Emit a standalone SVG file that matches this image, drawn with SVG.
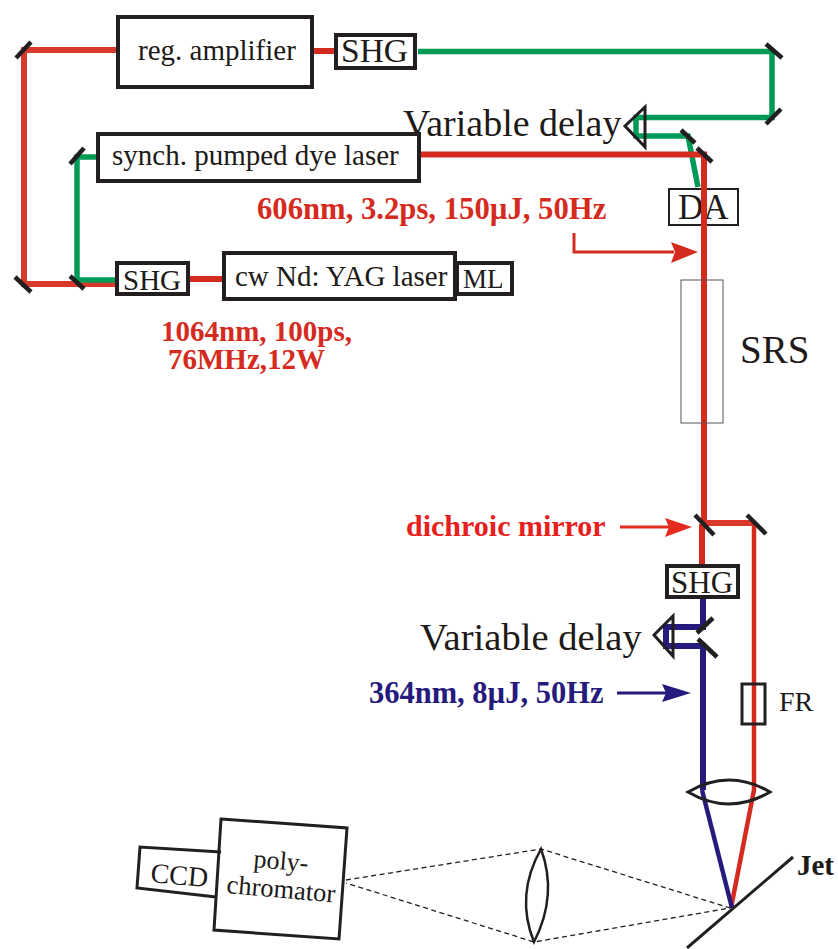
<svg xmlns="http://www.w3.org/2000/svg" width="838" height="949" viewBox="0 0 838 949">
<style>
text{font-family:"Liberation Serif","Times New Roman",serif;fill:#1d1a18}
.box{fill:#fff;stroke:#231f20;stroke-width:4}
.thin{fill:#fff;stroke:#231f20;stroke-width:2}
.m{fill:none;stroke:#231f20;stroke-width:4.5}
.o{fill:none;stroke:#231f20;stroke-width:3}
.r{fill:none;stroke:#d52b1e;stroke-width:6}
.rw{fill:none;stroke:#d8392a;stroke-width:6}
.g{fill:none;stroke:#009a57;stroke-width:5.5}
.b{fill:none;stroke:#261b7d;stroke-width:6}
.red{fill:#d52b1e;font-weight:bold;font-size:30px}
.d{fill:none;stroke:#231f20;stroke-width:1.3;stroke-dasharray:5 3.5}
</style>
<g id="connectors">
<path class="rw" d="M118 50H24V284H118"/>
<path class="r" d="M312 51H336"/>
<path class="r" d="M188 279H224"/>
<path class="g" d="M98 157H77V280H117"/>
<path class="g" d="M418 51.500H772V117.500H636V136H688L698 187"/>
<path class="r" d="M420 154.500H704V524"/>
<path class="r" d="M702 524V568"/>
<path class="rw" d="M706 523H754"/>
<path class="r" style="stroke-width:4.500" d="M754 523V790L731 908"/>
<path class="b" d="M703 597V627H666V646H703V790"/>
<path class="b" style="stroke-width:4.500" d="M702 790L732 908"/>
<path d="M574 233V252H674" fill="none" stroke="#d52b1e" stroke-width="3"/>
<path d="M620 527H672" fill="none" stroke="#e52b1e" stroke-width="3"/>
<path d="M617 693H670" fill="none" stroke="#261b7d" stroke-width="3"/>
<path d="M698 252L671 242L675 252L671 263Z" fill="#d52b1e"/>
<path d="M692 527L665 518L669 527L665 537Z" fill="#e52b1e"/>
<path d="M691 693L662 684L666 693L662 702Z" fill="#261b7d"/>
<path class="d" d="M346 880L541 849L730 908L534 942L346 883"/>
</g>
<g id="mirrors">
<path class="m" d="M16 58L31 42"/>
<path class="m" d="M15 277L31 292"/>
<path class="m" d="M70 164L84 148"/>
<path class="m" d="M70 276L84 289"/>
<path class="m" d="M766 44L782 58"/>
<path class="m" d="M766 124L781 109"/>
<path class="m" d="M681 130L695 143"/>
<path class="m" d="M697 148L712 162"/>
<path class="m" d="M695 515L714 535"/>
<path class="m" d="M747 515L766 534"/>
<path class="m" d="M697 633L713 618"/>
<path class="m" d="M698 639L717 657"/>
</g>
<g id="reg-amplifier"><rect class="box" x="118" y="17" width="194" height="70"/><text x="138" y="60" font-size="29">reg. amplifier</text></g>
<g id="shg-top"><rect class="box" x="336" y="35" width="79" height="33"/><text x="341" y="62" font-size="33.500">SHG</text></g>
<g id="variable-delay-top"><text x="403" y="136" font-size="38">Variable delay</text><path class="o" d="M645 107L625 126L645 147Z"/></g>
<g id="dye-laser"><rect class="box" x="98" y="134" width="321" height="47"/><text x="112" y="165" font-size="29">synch. pumped dye laser</text></g>
<g id="da"><rect class="thin" x="669" y="189" width="69" height="36"/><text x="678" y="219" font-size="35">DA</text></g>
<path class="r" d="M704 180V230"/>
<g id="label-606"><text class="red" x="257" y="219" style="font-size:30.700px">606nm, 3.2ps, 150µJ, 50Hz</text></g>
<g id="shg-left"><rect class="box" x="117" y="263" width="71" height="31"/><text x="123" y="290" font-size="29">SHG</text></g>
<g id="yag"><rect class="box" x="224" y="253" width="231" height="46"/><text x="235" y="286" font-size="29">cw Nd: YAG laser</text></g>
<g id="ml"><rect class="box" x="457" y="263" width="55" height="31"/><text x="463" y="288" font-size="27">ML</text></g>
<g id="label-1064"><text class="red" x="161" y="341" style="font-size:29px">1064nm, 100ps,</text><text class="red" x="168" y="369" style="font-size:29px">76MHz,12W</text></g>
<g id="srs"><rect x="681" y="280" width="42" height="143" fill="none" stroke="#555" stroke-width="1"/><text x="740" y="363" font-size="39">SRS</text></g>
<g id="label-dichroic"><text x="406" y="536" font-size="30" font-weight="bold" style="fill:#e8201c">dichroic mirror</text></g>
<g id="shg-mid"><rect class="box" x="667" y="566" width="71" height="31"/><text x="671" y="593" font-size="31">SHG</text></g>
<g id="variable-delay-mid"><text x="420" y="650" font-size="38.600">Variable delay</text><path class="o" d="M673 616L654 635L673 656Z"/></g>
<g id="label-364"><text class="red" x="369" y="703" style="fill:#261b7d;font-size:30.500px">364nm, 8µJ, 50Hz</text></g>
<g id="fr"><rect x="742" y="684" width="23" height="40" fill="none" stroke="#231f20" stroke-width="3"/><text x="779" y="711" font-size="28">FR</text></g>
<g id="focus-lens"><path class="o" d="M688 792Q729 768 770 792Q729 816 688 792Z"/></g>
<g id="collection-lens"><path class="o" d="M541 849Q558 895 534 942Q515 895 541 849Z" style="stroke-width:2.500"/></g>
<g id="jet"><path fill="none" stroke="#231f20" stroke-width="3" d="M793 857L687 948"/><text x="797" y="875" font-size="29" font-weight="bold">Jet</text></g>
<g id="ccd"><path class="o" d="M221 852L140 847L137 888L216 897" fill="#fff"/><text x="150" y="882" font-size="28" transform="rotate(5 150 882)">CCD</text></g>
<g id="polychromator"><path class="o" d="M221 819L347 828L339 939L214 930Z"/><text x="253" y="867" font-size="26" transform="rotate(5 253 867)">poly-</text><text x="226" y="893" font-size="26.500" transform="rotate(5 226 893)">chromator</text></g>
</svg>
